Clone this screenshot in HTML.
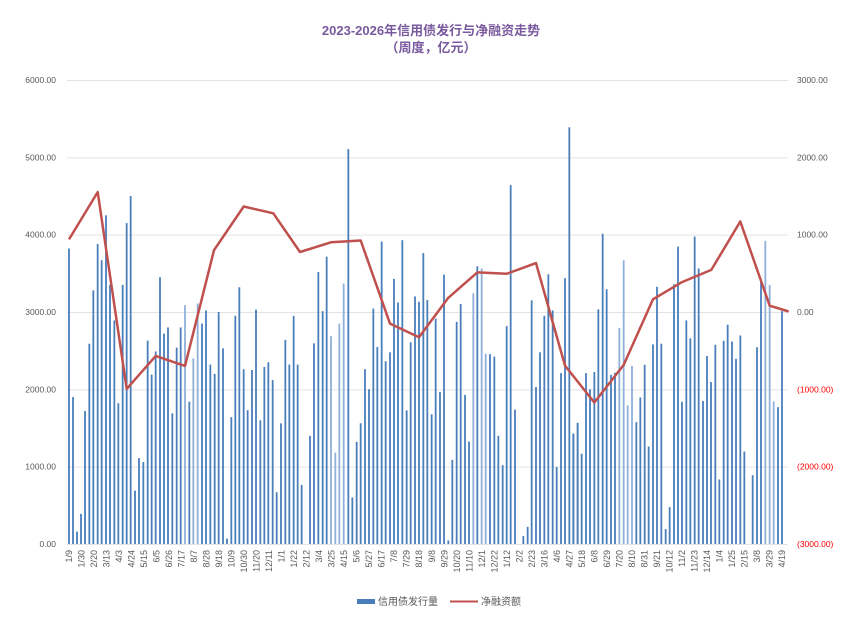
<!DOCTYPE html>
<html><head><meta charset="utf-8"><style>
html,body{margin:0;padding:0;background:#fff;}
svg{display:block;font-family:"Liberation Sans","Noto Sans CJK SC",sans-serif;}
</style></head><body>
<svg id="s" width="855" height="620" viewBox="0 0 855 620" xmlns="http://www.w3.org/2000/svg">
<rect width="855" height="620" fill="#fff"/>
<text x="431" y="35" text-anchor="middle" font-size="13" font-weight="bold" fill="#7a5a9e">2023-2026年信用债发行与净融资走势</text>
<text x="431" y="52" text-anchor="middle" font-size="13" font-weight="bold" fill="#7a5a9e">（周度，亿元）</text>
<g id="grid" stroke="#e3e3e3" stroke-width="1"></g>
<g id="ylab" font-size="8.5" fill="#595959"></g>
<g id="bars"></g>
<polyline id="line" fill="none" stroke="#c0504d" stroke-width="2.5" stroke-linejoin="round"/>
<g id="xlab" font-size="9" fill="#595959"></g>
<rect x="357" y="599" width="18" height="5" fill="#4a7ebb"/>
<text x="378" y="605" font-size="10" fill="#595959">信用债发行量</text>
<line x1="450" y1="601.5" x2="478" y2="601.5" stroke="#c0504d" stroke-width="2"/>
<text x="481" y="605" font-size="10" fill="#595959">净融资额</text>
</svg>
<script>
var NS="http://www.w3.org/2000/svg";
function el(t,a,p,txt){var e=document.createElementNS(NS,t);for(var k in a)e.setAttribute(k,a[k]);if(txt!==undefined)e.textContent=txt;document.getElementById(p).appendChild(e);return e;}
var base=544,top0=80,sc=(base-top0)/6000;
var L=["6000.00","5000.00","4000.00","3000.00","2000.00","1000.00","0.00"];
var R=["3000.00","2000.00","1000.00","0.00","(1000.00)","(2000.00)","(3000.00)"];
for(var i=0;i<7;i++){var y=top0+i*(base-top0)/6;
 el("line",{x1:67,x2:788,y1:y+0.5,y2:y+0.5},"grid");
 el("text",{x:56,y:y+3,"text-anchor":"end"},"ylab",L[i]);
 el("text",{x:797,y:y+3,fill:i>3?"#ff0000":"#595959"},"ylab",R[i]);}
var z1=[[207,3820],[219,1900],[231,160],[243,390],[255,1720],[268,2590],[280,3280],[293,3880],[305,3670],[318,4250],[330,3350],[343,2890],[355,1820],[368,3350],[380,4150],[392,4500],[405,690],[417,1110],[430,1060],[443,2630],[455,2190],[467,2490],[480,3450],[492,2720],[504,2800],[517,1690],[530,2540],[542,2800],[555,3090,1],[568,1840],[580,2400,1],[593,3110,1],[606,2850],[618,3020],[631,2320],[644,2200],[656,3000],[669,2530],[681,70],[694,1640],[706,2950],[718,3320],[731,2260],[743,1730],[756,2250],[768,3030],[781,1600],[793,2290],[805,2350],[818,2120],[830,670],[843,1560],[856,2640],[868,2320],[881,2950],[893,2320]];
var z2=[[5,1190],[30,1053],[42,795],[55,596],[68,705],[80,553],[93,775,1],[106,1100,1],[118,740,1],[131,628,1],[145,253],[157,1225],[170,1070],[182,1018],[195,867],[207,923],[220,698],[232,805],[245,511],[257,845],[270,820],[282,615],[294,681],[307,507],[320,982],[332,792],[345,664],[357,679],[370,543],[382,674],[395,993],[407,726],[420,931],[432,603],[445,1345],[457,1120],[470,735],[482,685],[495,939],[507,1069],[520,655,1],[532,580],[545,586,1],[557,824,1],[570,825],[583,832],[595,1053],[608,1135],[620,747],[632,353],[645,980],[670,1333],[683,1307],[695,675],[708,917],[720,820],[733,718],[745,602],[758,703],[770,1140],[783,878],[795,613],[808,192],[820,1047],[833,1017]];
var z3=[[40,1047],[53,1017],[65,1103],[78,878],[90,923],[103,875],[115,700],[128,489],[140,644],[153,883],[165,877],[178,752,1],[191,563,1],[203,968,1],[216,858,1],[229,1015],[241,946],[254,855],[266,1083],[279,798],[291,637],[304,796],[317,1313],[329,1252],[342,630],[354,525],[366,958],[379,731],[391,781],[404,497],[416,586],[429,956],[441,830],[453,903],[466,799],[478,1175],[491,788],[503,743],[516,790],[528,838],[541,773],[553,1097],[578,1163],[591,806],[603,614],[616,509,1],[629,632,1],[641,957,1],[654,973],[666,705]];
function bar(x,v,l){var h=v*sc;el("rect",{x:x-0.9,y:base-h,width:1.8,height:h,fill:l?"#8fb0da":"#4a7ebb"},"bars");}
z1.forEach(function(b){bar(b[0]/3,b[1],b[2]);});
z2.forEach(function(b){bar(300+b[0]/3,(1355-b[1])*4.633,b[2]);});
z3.forEach(function(b){bar(560+b[0]/3,(1355-b[1])*4.633,b[2]);});
document.getElementById("line").setAttribute("points","69,239.4 97.7,192.1 126.7,388.9 155.7,355.9 185,365.9 214,250.2 243.7,206.5 273.3,213.3 300,252 331,242.3 360.7,240.5 390,323.6 419,337.3 448.3,297.8 477.3,272.4 506.7,273.8 536,263.1 565,365.6 594.3,402.5 623.7,364.9 653,299.3 682,282.1 711.3,269.9 740.3,221.5 769.7,305.7 788.7,311.5");
var labs="1/9,1/30,2/20,3/13,4/3,4/24,5/15,6/5,6/26,7/17,8/7,8/28,9/18,10/9,10/30,11/20,12/11,1/1,1/22,2/12,3/4,3/25,4/15,5/6,5/27,6/17,7/8,7/29,8/18,9/8,9/29,10/20,11/10,12/1,12/22,1/12,2/2,2/23,3/16,4/6,4/27,5/18,6/8,6/29,7/20,8/10,8/31,9/21,10/12,11/2,11/23,12/14,1/4,1/25,2/15,3/8,3/29,4/19".split(",");
var x0=69,x1=782;
labs.forEach(function(t,i){var x=x0+i*(x1-x0)/(labs.length-1)+3;
 el("text",{x:0,y:0,"text-anchor":"end",transform:"translate("+x+",550) rotate(-90)"},"xlab",t);});
</script>
</body></html>
